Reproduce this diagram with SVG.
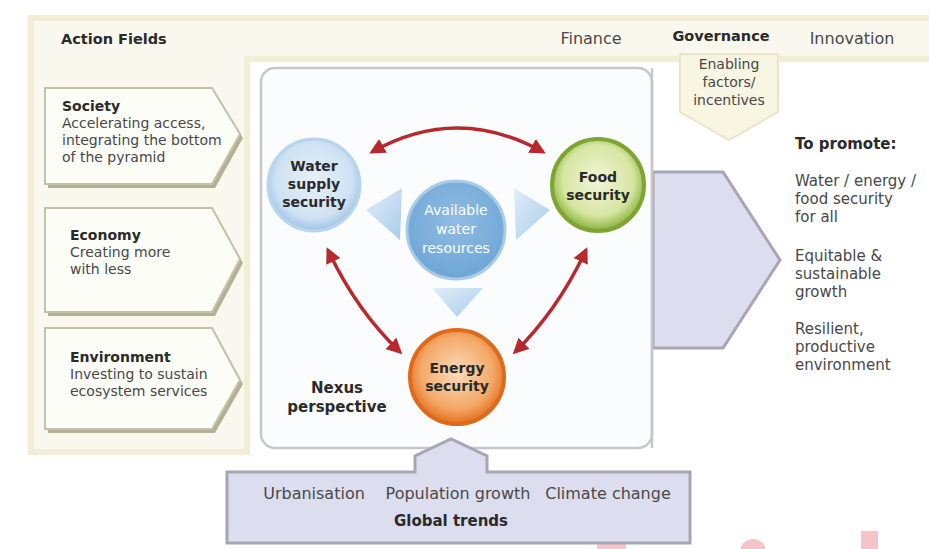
<svg xmlns="http://www.w3.org/2000/svg" width="929" height="549" viewBox="0 0 929 549">
<style>
text{font-family:"DejaVu Sans","Liberation Sans",sans-serif;fill:#484848;font-size:14px}
.b{font-weight:bold;fill:#2a2a2a}
.hr{font-size:16px}
.hb{font-size:14.5px}
.p{font-size:15px}
.ci{font-size:14px}
.c{text-anchor:middle}
.w{fill:#ffffff}
.act{fill:#fdfdf8;stroke:#c4c2a8;stroke-width:2}
.sh{fill:#b3b096}
.red{fill:none;stroke:#b8282c;stroke-width:3.5;marker-start:url(#ah);marker-end:url(#ah)}
.wedge{fill:url(#wg)}
</style>
<defs>
<marker id="ah" viewBox="0 0 10 10" refX="8" refY="5" markerWidth="4.5" markerHeight="4.5" orient="auto-start-reverse" markerUnits="strokeWidth">
<path d="M0,0 L10,5 L0,10 z" fill="#b8282c"/>
</marker>
<radialGradient id="gWater" cx="0.5" cy="0.45" r="0.55">
<stop offset="0" stop-color="#e6f0f9"/><stop offset="0.75" stop-color="#cfe2f3"/><stop offset="1" stop-color="#9cc3e6"/>
</radialGradient>
<radialGradient id="gFood" cx="0.5" cy="0.45" r="0.55">
<stop offset="0" stop-color="#f1f5d8"/><stop offset="0.7" stop-color="#d6e6a2"/><stop offset="1" stop-color="#86b13a"/>
</radialGradient>
<radialGradient id="gEnergy" cx="0.5" cy="0.45" r="0.55">
<stop offset="0" stop-color="#fbdcbc"/><stop offset="0.7" stop-color="#f4a867"/><stop offset="1" stop-color="#e3701f"/>
</radialGradient>
<radialGradient id="gAvail" cx="0.5" cy="0.4" r="0.6">
<stop offset="0" stop-color="#8fbce3"/><stop offset="1" stop-color="#6fa6d6"/>
</radialGradient>
<linearGradient id="wg" x1="0" y1="0" x2="1" y2="1">
<stop offset="0" stop-color="#e2edf8"/><stop offset="1" stop-color="#a8cceb"/>
</linearGradient>
</defs>

<!-- cream frame -->
<path d="M28,15 H929 V62 H250 V455 H28 Z" fill="#f2edd4"/>
<path d="M34,21 H929 V56 H244 V449 H34 Z" fill="#faf8ee"/>

<!-- watermark fragments -->
<g fill="#f5c4ca">
<rect x="597" y="522" width="8" height="27"/>
<circle cx="615" cy="546" r="11"/>
<circle cx="753" cy="552" r="13"/>
<rect x="861" y="531" width="17" height="18"/>
</g>

<g id="header">
<text x="61" y="44" class="b hb">Action Fields</text>
<text x="591" y="44" class="c hr">Finance</text>
<text x="721" y="41" class="b c hb">Governance</text>
<text x="852" y="44" class="c hr">Innovation</text>
</g>

<g id="enabling">
<path d="M680,54 H778 V112 L729,140 L680,112 Z" fill="#f8f5e3" stroke="#ebe5c8" stroke-width="2"/>
<text x="729" y="69" class="c">Enabling</text>
<text x="729" y="87" class="c">factors/</text>
<text x="729" y="105" class="c">incentives</text>
</g>

<g id="society">
<path d="M48,92 H215 L243,138 L215,188 H48 Z" class="sh"/>
<path d="M45,88 H212 L240,134 L212,184 H45 Z" class="act"/>
<text x="62" y="111" class="b">Society</text>
<text x="62" y="128">Accelerating access,</text>
<text x="62" y="145">integrating the bottom</text>
<text x="62" y="162">of the pyramid</text>
</g>
<g id="economy">
<path d="M48,212 H215 L243,263 L215,316 H48 Z" class="sh"/>
<path d="M45,208 H212 L240,259 L212,312 H45 Z" class="act"/>
<text x="70" y="240" class="b">Economy</text>
<text x="70" y="257">Creating more</text>
<text x="70" y="274">with less</text>
</g>
<g id="environment">
<path d="M48,332 H215 L243,384 L215,433 H48 Z" class="sh"/>
<path d="M45,328 H212 L240,380 L212,429 H45 Z" class="act"/>
<text x="70" y="362" class="b">Environment</text>
<text x="70" y="379">Investing to sustain</text>
<text x="70" y="396">ecosystem services</text>
</g>

<g id="nexus-panel">
<rect x="261" y="68" width="391" height="380" rx="14" fill="#fafcfd" stroke="#c6c6cb" stroke-width="2.5"/>
<text x="337" y="393" class="b c p">Nexus</text>
<text x="337" y="412" class="b c p">perspective</text>
</g>

<g id="wedges">
<path d="M366,210 L402,188 L400,240 Z" class="wedge"/>
<path d="M550,210 L514,188 L516,240 Z" class="wedge"/>
<path d="M432,288 H483 L457,317 Z" class="wedge"/>
</g>

<g id="water">
<circle cx="314" cy="185" r="46" fill="url(#gWater)" stroke="#b9d5ee" stroke-width="3"/>
<text x="314" y="171" class="b c ci">Water</text>
<text x="314" y="189" class="b c ci">supply</text>
<text x="314" y="207" class="b c ci">security</text>
</g>
<g id="food">
<circle cx="598" cy="185" r="46" fill="url(#gFood)" stroke="#7ea532" stroke-width="4"/>
<text x="598" y="182" class="b c ci">Food</text>
<text x="598" y="200" class="b c ci">security</text>
</g>
<g id="available">
<circle cx="456" cy="230" r="49" fill="url(#gAvail)" stroke="#a9cbe8" stroke-width="3"/>
<text x="456" y="215" class="c w ci">Available</text>
<text x="456" y="234" class="c w ci">water</text>
<text x="456" y="253" class="c w ci">resources</text>
</g>
<g id="energy">
<circle cx="457" cy="377" r="47" fill="url(#gEnergy)" stroke="#df6a1c" stroke-width="4"/>
<text x="457" y="373" class="b c ci">Energy</text>
<text x="457" y="391" class="b c ci">security</text>
</g>

<g id="connectors">
<path d="M372,152 Q457,104 543,152" class="red"/>
<path d="M328,250 Q356,310 400,352" class="red"/>
<path d="M586,250 Q558,310 515,352" class="red"/>
</g>

<g id="promote-arrow">
<path d="M653,172 H723 L780,260 L723,348 H653 Z" fill="#dcdef0" stroke="#a8a6b4" stroke-width="3"/>
<line x1="652" y1="68" x2="652" y2="448" stroke="#c6c6cb" stroke-width="2.5"/>
</g>

<g id="promote">
<text x="795" y="149" class="b p">To promote:</text>
<text x="795" y="186" class="p">Water / energy /</text>
<text x="795" y="204" class="p">food security</text>
<text x="795" y="222" class="p">for all</text>
<text x="795" y="261" class="p">Equitable &amp;</text>
<text x="795" y="279" class="p">sustainable</text>
<text x="795" y="297" class="p">growth</text>
<text x="795" y="334" class="p">Resilient,</text>
<text x="795" y="352" class="p">productive</text>
<text x="795" y="370" class="p">environment</text>
</g>

<g id="global-trends">
<path d="M227,472 H415 V456 L451,439 L487,456 V472 H690 V543 H227 Z" fill="#dcdeef" stroke="#a8a6b4" stroke-width="3"/>
<text x="314" y="499" class="c hr">Urbanisation</text>
<text x="458" y="499" class="c hr">Population growth</text>
<text x="608" y="499" class="c hr">Climate change</text>
<text x="451" y="526" class="b c p">Global trends</text>
</g>
</svg>
